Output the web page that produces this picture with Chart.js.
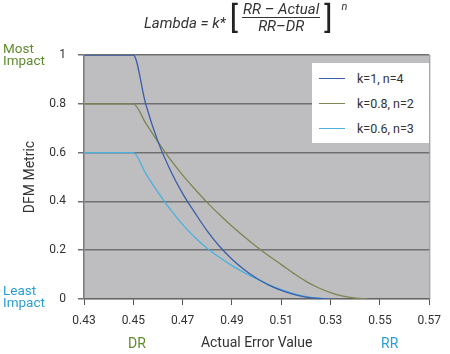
<!DOCTYPE html>
<html>
<head>
<meta charset="utf-8">
<script src="https://cdn.jsdelivr.net/npm/chart.js@4.4.1/dist/chart.umd.min.js"></script>
<style>
  html, body { margin: 0; padding: 0; background: #ffffff; }
  #wrap { position: relative; width: 450px; height: 354px; overflow: hidden; font-family: Roboto, "Open Sans", sans-serif; }
  #c { position: absolute; left: 0; top: 0; }
  .ov { position: absolute; white-space: nowrap; }
  #title { left: 144px; top: 1px; display: flex; align-items: center; font: italic 15px Roboto, sans-serif; color: #333; }
  #title .br { font-style: normal; font-weight: 400; font-size: 31px; line-height: 30px; margin: 0 4px; color: #222; }
  #title .frac { display: flex; flex-direction: column; align-items: center; }
  #title .num { border-bottom: 1.3px solid #333; line-height: 16px; padding: 0 1px; }
  #title .den { line-height: 16px; }
  #title sup { font-size: 11px; align-self: flex-start; margin-left: 5px; margin-top: -1px; }
  .side { font-size: 13.5px; line-height: 12px; }
  #legend { left: 312px; top: 63px; width: 117px; height: 80px; background: #fff; font: 12.5px Roboto, sans-serif; color: #333; }
  #legend .row { position: absolute; left: 7px; display: flex; align-items: center; }
  #legend .sw { width: 26px; height: 1.3px; margin-right: 12px; }
</style>
</head>
<body>
<div id="wrap">
  <canvas id="c" width="450" height="354"></canvas>
  <div id="title" class="ov">
    <span style="margin-top:11px">Lambda = k*</span>
    <span class="br">[</span>
    <div class="frac"><span class="num">RR – Actual</span><span class="den">RR–DR</span></div>
    <span class="br">]</span>
    <sup>n</sup>
  </div>
  <div class="ov side" style="left:3px;top:42px;color:#5f8a2e">Most<br>Impact</div>
  <div class="ov side" style="left:3px;top:284px;color:#2a9fd6">Least<br>Impact</div>
  <div class="ov" style="left:128px;top:335px;font-size:14px;color:#5f8a2e">DR</div>
  <div class="ov" style="left:381px;top:335px;font-size:14px;color:#2a9fd6">RR</div>
  <div id="legend" class="ov"></div>
</div>
<script>
// ---- data ----
const xTicks = [0.43, 0.45, 0.47, 0.49, 0.51, 0.53, 0.55, 0.57];
const yTicks = [0, 0.2, 0.4, 0.6, 0.8, 1];

const seriesNames = ["k=1, n=4", "k=0.8, n=2", "k=0.6, n=3"];

const xK1 = [0.43, 0.45, 0.455, 0.46, 0.465, 0.47, 0.475, 0.48, 0.485, 0.49, 0.495, 0.50, 0.505, 0.51, 0.515, 0.52, 0.525, 0.53];
const yK1 = [1, 1, 0.8, 0.645, 0.528, 0.432, 0.353, 0.278, 0.215, 0.163, 0.12, 0.085, 0.057, 0.035, 0.019, 0.008, 0.002, 0];

const xK08 = [0.43, 0.45, 0.455, 0.46, 0.465, 0.47, 0.475, 0.48, 0.485, 0.49, 0.495, 0.50, 0.505, 0.51, 0.515, 0.52, 0.525, 0.53, 0.535, 0.54, 0.545];
const yK08 = [0.8, 0.8, 0.721, 0.644, 0.572, 0.508, 0.45, 0.395, 0.345, 0.298, 0.255, 0.214, 0.176, 0.141, 0.105, 0.072, 0.046, 0.026, 0.012, 0.004, 0];

const xK06 = [0.43, 0.45, 0.455, 0.46, 0.465, 0.47, 0.475, 0.48, 0.485, 0.49, 0.495, 0.50, 0.505, 0.51, 0.515, 0.52, 0.525, 0.53];
const yK06 = [0.6, 0.6, 0.515, 0.437, 0.367, 0.305, 0.252, 0.207, 0.17, 0.137, 0.108, 0.082, 0.058, 0.038, 0.022, 0.01, 0.003, 0];

const colors = ["#3a5ea8", "#7b8651", "#4cb0dd"];

function pts(xs, ys) { return xs.map((x, i) => ({ x: x, y: ys[i] })); }

const datasets = [
  { label: seriesNames[0], data: pts(xK1, yK1), borderColor: colors[0] },
  { label: seriesNames[1], data: pts(xK08, yK08), borderColor: colors[1] },
  { label: seriesNames[2], data: pts(xK06, yK06), borderColor: colors[2] }
].map(d => Object.assign(d, { borderWidth: 1.3, pointRadius: 0, fill: false, cubicInterpolationMode: 'monotone' }));

const plotBg = {
  id: 'plotBg',
  beforeDraw(chart) {
    const { ctx, chartArea: a } = chart;
    ctx.save();
    ctx.fillStyle = '#bebec0';
    ctx.fillRect(a.left, a.top, a.right - a.left, a.bottom - a.top);
    ctx.restore();
  },
  afterDraw(chart) {
    const { ctx, chartArea: a } = chart;
    ctx.save();
    ctx.strokeStyle = '#8a8a8c';
    ctx.lineWidth = 1;
    ctx.beginPath();
    ctx.moveTo(a.right + 0.5, a.top);
    ctx.lineTo(a.right + 0.5, a.bottom);
    ctx.stroke();
    ctx.restore();
  }
};

const tickFont = { family: 'Roboto', size: 12 };

new Chart(document.getElementById('c'), {
  type: 'line',
  data: { datasets: datasets },
  options: {
    responsive: false,
    animation: false,
    layout: { padding: { top: 55, right: 11, left: 0, bottom: 0 } },
    plugins: { legend: { display: false }, tooltip: { enabled: false } },
    scales: {
      x: {
        type: 'linear', min: 0.43, max: 0.57,
        afterBuildTicks: s => { s.ticks = xTicks.map(v => ({ value: v })); },
        afterFit: s => { s.height = 55; },
        ticks: { callback: v => v.toFixed(2), color: '#333', font: tickFont, padding: 9, maxRotation: 0 },
        grid: { drawOnChartArea: false, drawTicks: true, tickLength: 6, color: '#555', lineWidth: 1 },
        border: { color: '#666', width: 1.2 },
        title: { display: true, text: 'Actual Error Value', color: '#333', font: { family: 'Roboto', size: 14 }, padding: { top: 0, bottom: 2 } }
      },
      y: {
        type: 'linear', min: 0, max: 1,
        afterBuildTicks: s => { s.ticks = yTicks.map(v => ({ value: v })); },
        afterFit: s => { s.width = 84; },
        ticks: { callback: v => String(v), color: '#333', font: tickFont, padding: 12 },
        grid: { color: '#707072', lineWidth: 1.5, tickLength: 6 },
        border: { color: '#7a7a7c', width: 1.5 },
        title: { display: true, text: 'DFM Metric', color: '#333', font: { family: 'Roboto', size: 14 }, padding: { top: 22, bottom: 0 } }
      }
    }
  },
  plugins: [plotBg]
});

// HTML legend built from the series
const leg = document.getElementById('legend');
seriesNames.forEach((name, i) => {
  const r = document.createElement('div');
  r.className = 'row';
  r.style.top = (8 + i * 25) + 'px';
  r.innerHTML = '<span class="sw" style="background:' + colors[i] + '"></span><span>' + name + '</span>';
  leg.appendChild(r);
});
</script>
</body>
</html>
